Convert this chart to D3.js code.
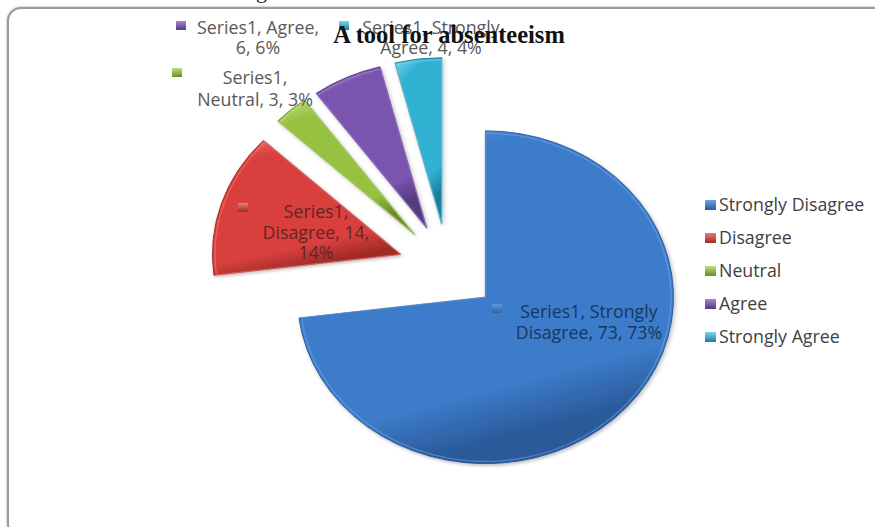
<!DOCTYPE html>
<html>
<head>
<meta charset="utf-8">
<script src="https://cdn.jsdelivr.net/npm/d3@7/dist/d3.min.js"></script>
<style>
  html, body { margin: 0; padding: 0; background: #fff; }
  svg { display: block; }
</style>
</head>
<body>
<svg id="chart" width="875" height="527"></svg>
<script>
// Survey responses: "A tool for absenteeism"
const categories = ["Strongly Disagree", "Disagree", "Neutral", "Agree", "Strongly Agree"];
const values = [73, 14, 3, 6, 4];
const percents = ["73%", "14%", "3%", "6%", "4%"];
const seriesName = "Series1";
const title = "A tool for absenteeism";

const colors = ["#3d7ccb", "#d9403d", "#97c140", "#7a55b0", "#32b2d3"];
const darkColors = ["#2a5a9a", "#9e2a28", "#6a8a2a", "#553a80", "#1f7f99"];
const lightColors = ["#6ea2e2", "#ee7a76", "#bde27a", "#a585d6", "#7ad6ec"];
const labelColors = ["#17375e", "#632523", "#595959", "#595959", "#595959"];

const svg = d3.select("#chart");
const W = 875, H = 527;

const defs = svg.append("defs");

// soft shadow under the slices
const sh = defs.append("filter").attr("id", "shadow")
  .attr("x", "-20%").attr("y", "-20%").attr("width", "140%").attr("height", "140%");
sh.append("feDropShadow").attr("dx", 1.5).attr("dy", 2).attr("stdDeviation", 2)
  .attr("flood-color", "#000").attr("flood-opacity", 0.25);

const bs = defs.append("filter").attr("id", "boxshadow")
  .attr("x", "-5%").attr("y", "-5%").attr("width", "110%").attr("height", "110%");
bs.append("feDropShadow").attr("dx", 0).attr("dy", 0).attr("stdDeviation", 1.2)
  .attr("flood-color", "#000").attr("flood-opacity", 0.35);

// bevel-like gradients for each slice
categories.forEach((c, i) => {
  const g = defs.append("linearGradient").attr("id", "grad" + i)
    .attr("x1", "0").attr("y1", "0").attr("x2", "0.3").attr("y2", "1");
  g.append("stop").attr("offset", "0%").attr("stop-color", lightColors[i]);
  g.append("stop").attr("offset", "18%").attr("stop-color", colors[i]);
  g.append("stop").attr("offset", "85%").attr("stop-color", colors[i]);
  g.append("stop").attr("offset", "100%").attr("stop-color", darkColors[i]);
  const m = defs.append("linearGradient").attr("id", "mgrad" + i)
    .attr("x1", "0").attr("y1", "0").attr("x2", "0").attr("y2", "1");
  m.append("stop").attr("offset", "0%").attr("stop-color", lightColors[i]);
  m.append("stop").attr("offset", "100%").attr("stop-color", darkColors[i]);
});

// chart frame
svg.append("rect")
  .attr("x", 8).attr("y", 8).attr("width", W + 4).attr("height", H + 2)
  .attr("rx", 13).attr("ry", 13)
  .attr("fill", "#fff").attr("stroke", "#9a9a9a").attr("stroke-width", 2)
  .attr("filter", "url(#boxshadow)");

// fragment of heading text above the frame
svg.append("text").attr("x", 256).attr("y", -2)
  .attr("font-family", "Liberation Serif, serif").attr("font-size", 22)
  .attr("fill", "#222").text("g");

// pie geometry
const cx = 448, cy = 268, yScale = 0.885;
const radius = 188, explode = 50;

const pie = d3.pie().sort(null).value(d => d).startAngle(0).endAngle(2 * Math.PI);
const arcs = pie(values);
const arc = d3.arc().innerRadius(0).outerRadius(radius);

const pieG = svg.append("g")
  .attr("transform", `translate(${cx},${cy}) scale(1,${yScale})`);

const slices = pieG.selectAll("g.slice").data(arcs).enter().append("g")
  .attr("class", "slice")
  .attr("transform", d => {
    const mid = (d.startAngle + d.endAngle) / 2;
    return `translate(${explode * Math.sin(mid)},${-explode * Math.cos(mid)})`;
  });

slices.append("path")
  .attr("d", arc)
  .attr("fill", (d, i) => `url(#grad${i})`)
  .attr("stroke", (d, i) => darkColors[i])
  .attr("stroke-width", 1)
  .attr("stroke-linejoin", "round")
  .attr("filter", "url(#shadow)");

// inner highlight rim for the bevel look
const rim = d3.arc().innerRadius(0).outerRadius(radius - 2.5);
slices.append("path")
  .attr("d", rim)
  .attr("fill", "none")
  .attr("stroke", (d, i) => lightColors[i])
  .attr("stroke-opacity", 0.55)
  .attr("stroke-width", 1.5)
  .attr("stroke-linejoin", "round");

// data labels: marker square + centred lines
const labelFont = "'Open Sans', Lato, sans-serif";
const labelSize = 17.8;
const labelLayout = [
  { marker: [497, 309], x: 589, y: 318, lines: [`${seriesName}, Strongly`, `Disagree, ${values[0]}, ${percents[0]}`] },
  { marker: [243, 208], x: 316, y: 218, lines: [`${seriesName},`, `Disagree, ${values[1]},`, percents[1]] },
  { marker: [177, 73],  x: 255, y: 84,  lines: [`${seriesName},`, `Neutral, ${values[2]}, ${percents[2]}`] },
  { marker: [181, 26],  x: 258, y: 34,  lines: [`${seriesName}, Agree,`, `${values[3]}, ${percents[3]}`] },
  { marker: [344, 26],  x: 431, y: 34,  lines: [`${seriesName}, Strongly`, `Agree, ${values[4]}, ${percents[4]}`] }
];
const lineH = [21, 20.5, 22, 20, 20];

labelLayout.forEach((L, i) => {
  svg.append("rect")
    .attr("x", L.marker[0] - 5).attr("y", L.marker[1] - 5)
    .attr("width", 10).attr("height", 9)
    .attr("fill", `url(#mgrad${i})`)
    .attr("opacity", i === 0 ? 0.75 : 1);
  const t = svg.append("text")
    .attr("text-anchor", "middle")
    .attr("font-family", labelFont)
    .attr("font-size", labelSize)
    .attr("fill", labelColors[i]);
  L.lines.forEach((ln, k) => {
    t.append("tspan").attr("x", L.x).attr("y", L.y + k * lineH[i]).text(ln);
  });
});

// title (drawn over the top labels)
svg.append("text")
  .attr("x", 449).attr("y", 43)
  .attr("text-anchor", "middle")
  .attr("font-family", "Liberation Serif, 'Times New Roman', serif")
  .attr("font-weight", "bold")
  .attr("font-size", 24.5)
  .attr("fill", "#111")
  .text(title);

// legend
const legend = svg.append("g").attr("transform", "translate(705,200)");
const items = legend.selectAll("g").data(categories).enter().append("g")
  .attr("transform", (d, i) => `translate(0,${i * 33})`);
items.append("rect")
  .attr("x", 0).attr("y", 0).attr("width", 11).attr("height", 10)
  .attr("fill", (d, i) => `url(#mgrad${i})`);
items.append("text")
  .attr("x", 14).attr("y", 10.5)
  .attr("font-family", labelFont)
  .attr("font-size", labelSize)
  .attr("fill", "#404040")
  .text(d => d);
</script>
</body>
</html>
